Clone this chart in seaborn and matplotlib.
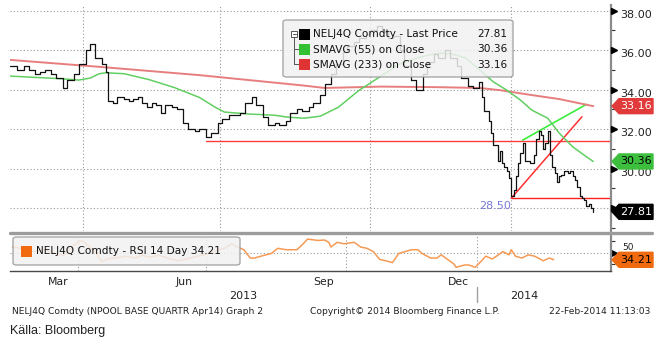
import matplotlib
matplotlib.use("Agg")
import matplotlib.pyplot as plt
import matplotlib.transforms as mtransforms
from matplotlib.patches import FancyBboxPatch, Polygon, Rectangle
from matplotlib.lines import Line2D
import numpy as np
import pandas as pd
import seaborn as sns

sns.set_style("white")
plt.rcParams['font.family'] = ['DejaVu Sans']

# ---------------- data ----------------
holidays = ['2013-03-28', '2013-03-29', '2013-04-01', '2013-05-01', '2013-05-09',
            '2013-05-17', '2013-05-20', '2013-12-24', '2013-12-25', '2013-12-26',
            '2013-12-31', '2014-01-01']

price_dates = [
    '2013-02-12', '2013-02-15', '2013-02-20', '2013-02-22', '2013-02-27', '2013-03-01',
    '2013-03-05', '2013-03-08', '2013-03-12', '2013-03-15', '2013-03-19', '2013-03-22',
    '2013-03-26', '2013-04-03', '2013-04-05', '2013-04-09', '2013-04-12', '2013-04-16',
    '2013-04-17', '2013-04-19', '2013-04-23', '2013-04-26', '2013-04-30', '2013-05-03',
    '2013-05-07', '2013-05-10', '2013-05-14', '2013-05-16', '2013-05-22', '2013-05-24',
    '2013-05-28', '2013-05-31', '2013-06-04', '2013-06-07', '2013-06-11', '2013-06-14',
    '2013-06-18', '2013-06-21', '2013-06-25', '2013-06-28', '2013-07-02', '2013-07-05',
    '2013-07-09', '2013-07-12', '2013-07-16', '2013-07-19', '2013-07-23', '2013-07-26',
    '2013-07-30', '2013-08-02', '2013-08-06', '2013-08-09', '2013-08-13', '2013-08-16',
    '2013-08-20', '2013-08-23', '2013-08-27', '2013-08-30', '2013-09-03', '2013-09-06',
    '2013-09-10', '2013-09-13', '2013-09-17', '2013-09-20', '2013-09-24', '2013-09-27',
    '2013-10-01', '2013-10-04', '2013-10-08', '2013-10-11', '2013-10-15', '2013-10-18',
    '2013-10-22', '2013-10-25', '2013-10-29', '2013-11-01', '2013-11-05', '2013-11-08',
    '2013-11-12', '2013-11-15', '2013-11-19', '2013-11-22', '2013-11-26', '2013-11-29',
    '2013-12-03', '2013-12-06', '2013-12-09', '2013-12-10', '2013-12-12', '2013-12-13',
    '2013-12-16', '2013-12-18', '2013-12-19', '2013-12-20', '2013-12-23', '2013-12-27',
    '2013-12-30', '2014-01-02', '2014-01-03', '2014-01-06', '2014-01-07', '2014-01-08',
    '2014-01-09', '2014-01-10', '2014-01-14', '2014-01-16', '2014-01-17', '2014-01-20',
    '2014-01-21', '2014-01-22', '2014-01-23', '2014-01-24', '2014-01-27', '2014-01-28',
    '2014-01-29', '2014-01-30', '2014-01-31', '2014-02-03', '2014-02-04', '2014-02-06',
    '2014-02-07', '2014-02-10', '2014-02-11', '2014-02-12', '2014-02-13', '2014-02-14',
    '2014-02-17', '2014-02-18', '2014-02-19', '2014-02-20', '2014-02-21']
price_close = [
    35.2, 35.0, 35.2, 35.0, 34.8, 34.9,
    35.0, 34.8, 34.6, 34.1, 34.5, 34.8,
    35.3, 36.0, 36.3, 35.6, 35.3, 34.9,
    33.4, 33.3, 33.6, 33.5, 33.4, 33.5,
    33.6, 33.3, 33.1, 33.3, 33.2, 32.8,
    33.2, 33.1, 33.0, 32.3, 32.0, 31.9,
    32.0, 31.6, 31.8, 32.3, 32.5, 32.7,
    32.7, 32.8, 33.3, 33.6, 33.2, 32.6,
    32.2, 32.3, 32.2, 32.4, 32.8, 33.0,
    32.9, 33.1, 33.3, 33.7, 34.3, 34.8,
    35.3, 35.9, 36.2, 36.4, 36.6, 36.8,
    37.0, 37.2, 36.9, 36.6, 36.7, 36.0,
    35.2, 34.5, 34.0, 34.8, 35.4, 35.8,
    35.6, 36.0, 35.6, 35.2, 34.6, 34.2,
    34.1, 34.4, 33.6, 32.9, 32.4, 31.8,
    31.2, 30.4, 30.9, 30.3, 30.1, 29.9,
    29.5, 28.6, 28.9, 29.6, 30.3, 30.8,
    31.3, 30.4, 30.3, 30.7, 31.5, 31.9,
    31.7, 31.0, 31.3, 31.9, 30.7, 30.1,
    29.8, 29.3, 29.6, 29.7, 29.9, 29.8,
    29.9, 29.6, 29.4, 29.05, 28.6, 28.5,
    28.4, 28.1, 28.2, 28.0, 27.81]

sma55_dates = ['2013-02-12', '2013-03-14', '2013-03-26', '2013-04-05', '2013-04-11',
               '2013-04-16', '2013-04-26', '2013-05-15', '2013-06-03', '2013-06-18',
               '2013-06-27', '2013-07-03', '2013-07-18', '2013-08-02', '2013-08-12',
               '2013-08-21', '2013-08-30', '2013-09-11', '2013-09-24', '2013-10-08',
               '2013-10-18', '2013-10-31', '2013-11-12', '2013-11-20', '2013-11-28',
               '2013-12-06', '2013-12-16', '2013-12-27', '2014-01-08', '2014-01-15',
               '2014-01-24', '2014-01-31', '2014-02-10', '2014-02-18', '2014-02-21']
sma55_vals = [34.68, 34.55, 34.48, 34.58, 34.8,
              34.85, 34.8, 34.5, 34.1, 33.6,
              33.1, 32.86, 32.76, 32.7, 32.6,
              32.55, 32.65, 33.1, 33.95, 34.7,
              35.3, 35.65, 35.85, 35.8, 35.6,
              35.0, 34.4, 33.97, 33.47, 32.96,
              32.55, 31.8, 31.1, 30.6, 30.36]

sma233_dates = ['2013-02-12', '2013-04-11', '2013-06-18', '2013-08-21', '2013-09-03',
                '2013-10-08', '2013-11-12', '2013-12-06', '2013-12-19', '2014-01-15',
                '2014-01-31', '2014-02-21']
sma233_vals = [35.5, 35.15, 34.73, 34.2, 34.08,
               34.15, 34.12, 34.08, 33.97, 33.72,
               33.52, 33.16]

rsi_dates = ['2013-02-13', '2013-02-20', '2013-02-27', '2013-03-06', '2013-03-13',
             '2013-03-19', '2013-03-26', '2013-04-03', '2013-04-05', '2013-04-09',
             '2013-04-12', '2013-04-17', '2013-04-22', '2013-04-30', '2013-05-06',
             '2013-05-13', '2013-05-16', '2013-05-24', '2013-05-30', '2013-06-05',
             '2013-06-12', '2013-06-18', '2013-06-25', '2013-07-01', '2013-07-09',
             '2013-07-12', '2013-07-17', '2013-07-22', '2013-07-25', '2013-07-30',
             '2013-08-01', '2013-08-06', '2013-08-13', '2013-08-16', '2013-08-22',
             '2013-08-29', '2013-09-03', '2013-09-05', '2013-09-12', '2013-09-17',
             '2013-09-19', '2013-09-20', '2013-09-25', '2013-09-30', '2013-10-02',
             '2013-10-07', '2013-10-10', '2013-10-15', '2013-10-18', '2013-10-23',
             '2013-10-28', '2013-10-31', '2013-11-05', '2013-11-08', '2013-11-13',
             '2013-11-18', '2013-11-20', '2013-11-26', '2013-11-29', '2013-12-03',
             '2013-12-06', '2013-12-11', '2013-12-12', '2013-12-18', '2013-12-20',
             '2013-12-30', '2014-01-06', '2014-01-08', '2014-01-13', '2014-01-16',
             '2014-01-20', '2014-01-23', '2014-01-24', '2014-01-28', '2014-01-31',
             '2014-02-05', '2014-02-10', '2014-02-13', '2014-02-14', '2014-02-19',
             '2014-02-21']
rsi_vals = [62, 58, 52, 56, 48,
            44, 66, 76, 72, 62,
            52, 30, 36, 40, 42,
            38, 44, 40, 44, 38,
            32, 36, 42, 46, 56,
            59, 69, 62, 56, 38,
            38, 42, 48, 59, 56,
            56, 69, 79, 76, 77,
            72, 62, 72, 69, 70,
            72, 62, 59, 52, 35,
            32, 28, 48, 52, 56,
            56, 48, 38, 38, 45,
            35, 25, 18, 23, 23,
            18, 32, 42, 36, 45,
            52, 45, 56, 42, 38,
            45, 42, 35, 32, 38,
            34.21]

resistance_level = 31.42
resistance_start = '2013-06-21'
support_level = 28.50
support_start = '2014-01-02'
red_trend_dates = ['2014-01-02', '2014-02-14']
red_trend_vals = [28.5, 32.62]
green_trend_dates = ['2014-01-09', '2014-02-18']
green_trend_vals = [31.44, 33.25]

month_starts = ['2013-03-01', '2013-04-01', '2013-05-01', '2013-06-01', '2013-07-01',
                '2013-08-01', '2013-09-01', '2013-10-01', '2013-11-01', '2013-12-01',
                '2014-01-01', '2014-02-01', '2014-03-01', '2014-04-01']
quarter_starts = ['2013-04-01', '2013-07-01', '2013-10-01', '2014-01-01']
month_labels = {'Mar': ('2013-03-01', '2013-04-01'), 'Jun': ('2013-06-01', '2013-07-01'),
                'Sep': ('2013-09-01', '2013-10-01'), 'Dec': ('2013-12-01', '2014-01-01')}
price_ticks = [28, 30, 32, 34, 36, 38]
price_minor = [27, 29, 31, 33, 35, 37]
last_price, last_sma55, last_sma233, last_rsi = 27.81, 30.36, 33.16, 34.21

# ------------- trading-day calendar -------------
cal = pd.bdate_range('2013-02-11', '2014-04-30', freq='C', holidays=holidays)


def tpos(dates):
    return [int(cal.searchsorted(pd.Timestamp(d))) for d in dates]


# ------------- figure -------------
W, H = 654, 343
fig = plt.figure(figsize=(W / 100, H / 100), dpi=100)
fig.patch.set_facecolor('white')

L, R = 10, 611
ax = fig.add_axes([L / W, 1 - 231 / H, (R - L) / W, (231 - 5) / H])
ax2 = fig.add_axes([L / W, 1 - 271 / H, (R - L) / W, (271 - 234) / H])

XMIN, XMAX = 0.8, 264.8
ax.set_xlim(XMIN, XMAX)
ax2.set_xlim(XMIN, XMAX)
ax.set_ylim(26.84, 38.28)
ax2.set_ylim(10, 90)

# main panel lines
sns.lineplot(x=tpos(sma233_dates), y=sma233_vals, ax=ax, color='#e67e7e', lw=1.4, zorder=3)
sns.lineplot(x=tpos(sma55_dates), y=sma55_vals, ax=ax, color='#62cf62', lw=1.1, zorder=3)
sns.lineplot(x=tpos(price_dates), y=price_close, ax=ax, color='#111111', lw=0.9,
             drawstyle='steps-post', zorder=4)

# annotations (trend lines / levels)
ax.plot([tpos([resistance_start])[0], XMAX], [resistance_level] * 2, color='#ff3b3b', lw=1.0, zorder=2)
ax.plot([tpos([support_start])[0], XMAX], [support_level] * 2, color='#ff2020', lw=1.0, zorder=2)
ax.plot(tpos(red_trend_dates), red_trend_vals, color='#ff3030', lw=1.1, zorder=2)
ax.plot(tpos(green_trend_dates), green_trend_vals, color='#3cee3c', lw=1.2, zorder=2)
ax.text(tpos([support_start])[0] - 0.3, support_level - 0.12, f'{support_level:.2f}',
        ha='right', va='top', fontsize=8, color='#7878d8', zorder=5)

# RSI panel
sns.lineplot(x=tpos(rsi_dates), y=rsi_vals, ax=ax2, color='#f59a55', lw=1.1, zorder=3)

# grids / ticks
grid_kw = dict(color='#9a9a9a', lw=0.8, ls=(0, (1, 2)))
qpos = tpos(quarter_starts)
mpos = tpos(month_starts)
for a in (ax, ax2):
    a.set_facecolor('white')
    for s in ('top', 'left', 'bottom'):
        a.spines[s].set_visible(False)
    a.spines['right'].set_color('#8a8a8a')
    a.spines['right'].set_linewidth(1.6)
    a.set_xlabel('')
    a.set_ylabel('')
    for q in qpos:
        a.axvline(q, zorder=1, **grid_kw)
    a.yaxis.set_ticks_position('right')
    a.tick_params(axis='y', which='major', length=0, labelright=False, labelleft=False)
    a.tick_params(axis='y', which='minor', length=3, width=0.8, color='#333333', direction='out')

ax.set_xticks([])
for v in price_ticks:
    ax.axhline(v, zorder=1, **grid_kw)
ax.set_yticks(price_ticks)
ax.set_yticks(price_minor, minor=True)
ax2.axhline(50, zorder=1, **grid_kw)
ax2.set_yticks([50])
ax2.set_yticks([25, 75], minor=True)

ax2.spines['bottom'].set_visible(True)
ax2.spines['bottom'].set_color('#4a4a4a')
ax2.spines['bottom'].set_linewidth(1.0)
ax2.set_xticks(mpos)
ax2.set_xticklabels([])
ax2.tick_params(axis='x', length=4, width=0.9, color='#555555', direction='out')

# right axis tick triangles and labels
blend = mtransforms.blended_transform_factory(ax.transAxes, ax.transData)
tri_tr = mtransforms.offset_copy(blend, fig=fig, x=3, y=0, units='dots')
ax.plot([1.0] * len(price_ticks), price_ticks, ls='none', marker='>', ms=4.5, color='black',
        transform=tri_tr, clip_on=False, zorder=6)
lab_tr = mtransforms.offset_copy(blend, fig=fig, x=9, y=-4, units='dots')
for v in price_ticks:
    ax.text(1.0, v, f'{v:.2f}', transform=lab_tr, ha='left', va='center', fontsize=8,
            color='#222222', clip_on=False)
blend2 = mtransforms.blended_transform_factory(ax2.transAxes, ax2.transData)
ax2.plot([1.0], [50], ls='none', marker='>', ms=4.5, color='black',
         transform=mtransforms.offset_copy(blend2, fig=fig, x=3, y=0, units='dots'), clip_on=False)
ax2.text(1.0, 50, '50', transform=mtransforms.offset_copy(blend2, fig=fig, x=11, y=5, units='dots'),
         ha='left', va='center', fontsize=6.5, color='#222222', clip_on=False)

# month / year labels
lab_tr_x = mtransforms.blended_transform_factory(ax2.transData, ax2.transAxes)
for name, (a0, a1) in month_labels.items():
    p0, p1 = tpos([a0, a1])
    ax2.text((p0 + p1) / 2, -0.17, name, transform=lab_tr_x, ha='center', va='top',
             fontsize=7.8, color='#222222', clip_on=False)
jan = tpos(['2014-01-01'])[0]
ax2.text((XMIN + jan) / 2, -0.55, '2013', transform=lab_tr_x, ha='center', va='top',
         fontsize=8, color='#222222', clip_on=False)
ax2.text((jan + XMAX) / 2, -0.55, '2014', transform=lab_tr_x, ha='center', va='top',
         fontsize=8, color='#222222', clip_on=False)
ax2.plot([jan, jan], [-0.42, -0.85], transform=lab_tr_x, color='#a0a0a0', lw=1.0, clip_on=False)


# ------------- figure-level decorations (pixel helpers) -------------
def fxy(x, y):
    return (x / W, 1 - y / H)


# panel separator
fig.add_artist(Line2D([L / W, 652 / W], [1 - 232.5 / H] * 2, color='#9c9c9c', lw=2.4,
                      transform=fig.transFigure))


def ypix(a, v):
    return H - a.transData.transform((0, v))[1]


def tag(a, v, text, fc, tc):
    yc = ypix(a, v)
    pts = [(612, yc), (619, yc - 7.5), (653, yc - 7.5), (653, yc + 7.5), (619, yc + 7.5)]
    poly = Polygon([fxy(px, py) for px, py in pts], closed=True, transform=fig.transFigure,
                   facecolor=fc, edgecolor=fc, zorder=10)
    fig.add_artist(poly)
    fig.text(636 / W, 1 - yc / H, text, ha='center', va='center', fontsize=8, color=tc, zorder=11)


tag(ax, last_sma233, f'{last_sma233:.2f}', '#e03a3a', 'white')
tag(ax, last_sma55, f'{last_sma55:.2f}', '#3cbf3c', 'black')
tag(ax, last_price, f'{last_price:.2f}', '#000000', 'white')
tag(ax2, last_rsi, f'{last_rsi:.2f}', '#f06a10', 'black')

# main legend
x0, y0, x1, y1 = 283, 20, 513, 77
box = FancyBboxPatch(fxy(x0, y1), (x1 - x0) / W, (y1 - y0) / H,
                     boxstyle='round,pad=0,rounding_size=0.006', transform=fig.transFigure,
                     facecolor='#f1f1f1', edgecolor='#9a9a9a', lw=1.0, alpha=0.85, zorder=8)
fig.add_artist(box)
# tree icon
fig.add_artist(Rectangle(fxy(291, 37), 6 / W, 6 / H, transform=fig.transFigure,
                         facecolor='white', edgecolor='#555555', lw=0.7, zorder=9))
fig.add_artist(Line2D([292.5 / W, 295.5 / W], [1 - 34 / H] * 2, color='#555555', lw=0.7,
                      transform=fig.transFigure, zorder=9))
fig.add_artist(Line2D([294 / W, 294 / W], [1 - 37 / H, 1 - 64 / H], color='#555555', lw=0.7,
                      transform=fig.transFigure, zorder=9))
for yy in (49, 64):
    fig.add_artist(Line2D([294 / W, 299 / W], [1 - yy / H] * 2, color='#555555', lw=0.7,
                          transform=fig.transFigure, zorder=9))
legend_rows = [('NELJ4Q Comdty - Last Price', f'{last_price:.2f}', '#000000', 34),
               ('SMAVG (55) on Close', f'{last_sma55:.2f}', '#33c033', 49.5),
               ('SMAVG (233) on Close', f'{last_sma233:.2f}', '#e03333', 64.5)]
for label, val, col, yy in legend_rows:
    fig.add_artist(Rectangle(fxy(299, yy + 5.5), 11 / W, 11 / H, transform=fig.transFigure,
                             facecolor=col, edgecolor='none', zorder=9))
    fig.text(313 / W, 1 - yy / H, label, ha='left', va='center', fontsize=7.6, color='#111111', zorder=9)
    fig.text(507 / W, 1 - yy / H, val, ha='right', va='center', fontsize=7.6, color='#111111', zorder=9)

# RSI legend
rx0, ry0, rx1, ry1 = 13, 237, 240, 265
rbox = FancyBboxPatch(fxy(rx0, ry1), (rx1 - rx0) / W, (ry1 - ry0) / H,
                      boxstyle='round,pad=0,rounding_size=0.006', transform=fig.transFigure,
                      facecolor='#f1f1f1', edgecolor='#9a9a9a', lw=1.0, alpha=0.85, zorder=8)
fig.add_artist(rbox)
fig.add_artist(Rectangle(fxy(21, 257), 11 / W, 11 / H, transform=fig.transFigure,
                         facecolor='#f26a10', edgecolor='none', zorder=9))
fig.text(36 / W, 1 - 251.5 / H, f'NELJ4Q Comdty - RSI 14 Day {last_rsi:.2f}', ha='left', va='center',
         fontsize=7.6, color='#111111', zorder=9)

# footer
fig.text(12 / W, 1 - 311 / H, 'NELJ4Q Comdty (NPOOL BASE QUARTR Apr14) Graph 2', ha='left',
         va='center', fontsize=6.6, color='#222222')
fig.text(310 / W, 1 - 311 / H, 'Copyright\u00a9 2014 Bloomberg Finance L.P.', ha='left',
         va='center', fontsize=6.6, color='#222222')
fig.text(650 / W, 1 - 311 / H, '22-Feb-2014 11:13:03', ha='right', va='center',
         fontsize=6.6, color='#222222')
fig.text(10 / W, 1 - 331 / H, 'Källa: Bloomberg', ha='left', va='center', fontsize=9,
         color='#222222', family=['Liberation Sans Narrow', 'Liberation Sans', 'DejaVu Sans'])

fig.savefig('out.png', dpi=100, facecolor='white')
